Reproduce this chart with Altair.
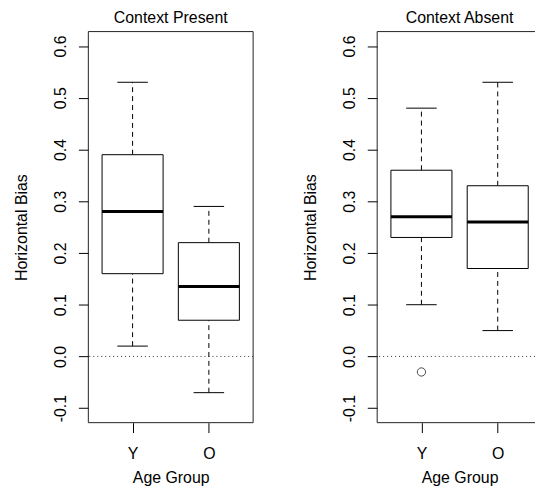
import altair as alt
import pandas as pd

# ---- data ----
panels = ["Context Present", "Context Present", "Context Absent", "Context Absent"]
groups = ["Y", "O", "Y", "O"]
lower = [0.02, -0.07, 0.10, 0.05]
q1 = [0.16, 0.07, 0.23, 0.17]
median = [0.28, 0.135, 0.27, 0.26]
q3 = [0.39, 0.22, 0.36, 0.33]
upper = [0.53, 0.29, 0.48, 0.53]

out_panels = ["Context Absent"]
out_groups = ["Y"]
out_values = [-0.03]

y_ticks = [-0.1, 0.0, 0.1, 0.2, 0.3, 0.4, 0.5, 0.6]
group_positions = {"Y": 1, "O": 2}

df = pd.DataFrame({
    "panel": panels, "group": groups, "lower": lower, "q1": q1,
    "median": median, "q3": q3, "upper": upper,
})
df["pos"] = [group_positions[g] for g in groups]
out_df = pd.DataFrame({"panel": out_panels, "group": out_groups, "value": out_values})
out_df["pos"] = [group_positions[g] for g in out_groups]

X_MIN, X_MAX = 0.42, 2.58
Y_DOMAIN = [-0.128, 0.628]
FONT = "Liberation Sans"
FS = 16
FULL_W = 166
H = 394

yscale = alt.Scale(domain=Y_DOMAIN, nice=False, zero=False)
xaxis = alt.Axis(values=[1, 2], labelExpr="datum.value == 1 ? 'Y' : 'O'",
                 title="Age Group", labelPadding=13, titlePadding=8, titleX=FULL_W / 2)
yaxis = alt.Axis(values=y_ticks, labelAngle=270, labelAlign="center", labelBaseline="bottom",
                 labelExpr="datum.value < 0 ? '-' + format(abs(datum.value), '.1f') : format(datum.value, '.1f')",
                 title="Horizontal Bias", labelPadding=10, titlePadding=23)


def Y(field):
    return alt.Y(field, type="quantitative", scale=yscale, axis=yaxis)


def panel(name, width, right_border, dx):
    # visible part of the x range (the right panel is cut by the page edge)
    xmax = X_MIN + (X_MAX - X_MIN) * width / FULL_W
    xscale = alt.Scale(domain=[X_MIN, xmax], nice=False, zero=False)

    def X(field):
        return alt.X(field, type="quantitative", scale=xscale, axis=xaxis)

    base = alt.Chart(df).transform_filter(alt.datum.panel == name).transform_calculate(
        bl="datum.pos - 0.4", br="datum.pos + 0.4",
        cl="datum.pos - 0.2", cr="datum.pos + 0.2")
    one = alt.Chart(df).transform_filter(
        (alt.datum.panel == name) & (alt.datum.group == "Y"))

    zero = one.mark_rule(color="#333333", strokeWidth=1, strokeDash=[1, 3]).encode(
        y=alt.Y(datum=0, scale=yscale, axis=yaxis))
    frame_top = one.mark_rule(color="#222222", strokeWidth=1).encode(
        y=alt.Y(datum=Y_DOMAIN[1], scale=yscale, axis=yaxis))
    frame_bot = one.mark_rule(color="#222222", strokeWidth=1).encode(
        y=alt.Y(datum=Y_DOMAIN[0], scale=yscale, axis=yaxis))
    frame_left = one.mark_rule(color="#222222", strokeWidth=1).encode(
        x=alt.X(datum=X_MIN, scale=xscale, axis=xaxis))

    box = base.mark_rect(fill="white", stroke="black", strokeWidth=1).encode(
        x=X("bl"), x2="br", y=Y("q1"), y2="q3")
    med = base.mark_rule(color="black", strokeWidth=3).encode(x=X("bl"), x2="br", y=Y("median"))
    wh_up = base.mark_rule(color="black", strokeWidth=1, strokeDash=[5, 4]).encode(
        x=X("pos"), y=Y("q3"), y2="upper")
    wh_lo = base.mark_rule(color="black", strokeWidth=1, strokeDash=[5, 4]).encode(
        x=X("pos"), y=Y("lower"), y2="q1")
    cap_up = base.mark_rule(color="black", strokeWidth=1).encode(x=X("cl"), x2="cr", y=Y("upper"))
    cap_lo = base.mark_rule(color="black", strokeWidth=1).encode(x=X("cl"), x2="cr", y=Y("lower"))
    layers = [zero, wh_up, wh_lo, box, med, cap_up, cap_lo, frame_top, frame_bot, frame_left]
    if right_border:
        layers.append(one.mark_rule(color="#222222", strokeWidth=1).encode(
            x=alt.X(datum=X_MAX, scale=xscale, axis=xaxis)))
    sub = out_df[out_df["panel"] == name]
    if len(sub):
        pts = alt.Chart(sub).mark_point(shape="circle", filled=False, size=70,
                                         color="black", strokeWidth=1).encode(
            x=X("pos"), y=Y("value"))
        layers.append(pts)
    return alt.layer(*layers).properties(
        width=width, height=H,
        title=alt.TitleParams(name, anchor="middle", frame="group", offset=5, dx=dx))


chart = alt.hconcat(
    panel("Context Present", FULL_W, True, 0),
    panel("Context Absent", 159, False, 3.5),
    spacing=48,
).properties(
    padding={"left": 13, "top": 8, "right": 0, "bottom": 0}
).configure_view(stroke=None).configure_axis(
    grid=False, domain=False, tickColor="black", tickSize=10, tickWidth=1,
    labelFont=FONT, labelFontSize=FS, labelColor="black",
    titleFont=FONT, titleFontSize=FS, titleFontWeight="normal", titleColor="black",
).configure_title(font=FONT, fontSize=FS, fontWeight="normal", color="black")

chart.save("out.html", embed_options={"renderer": "svg", "actions": False})
